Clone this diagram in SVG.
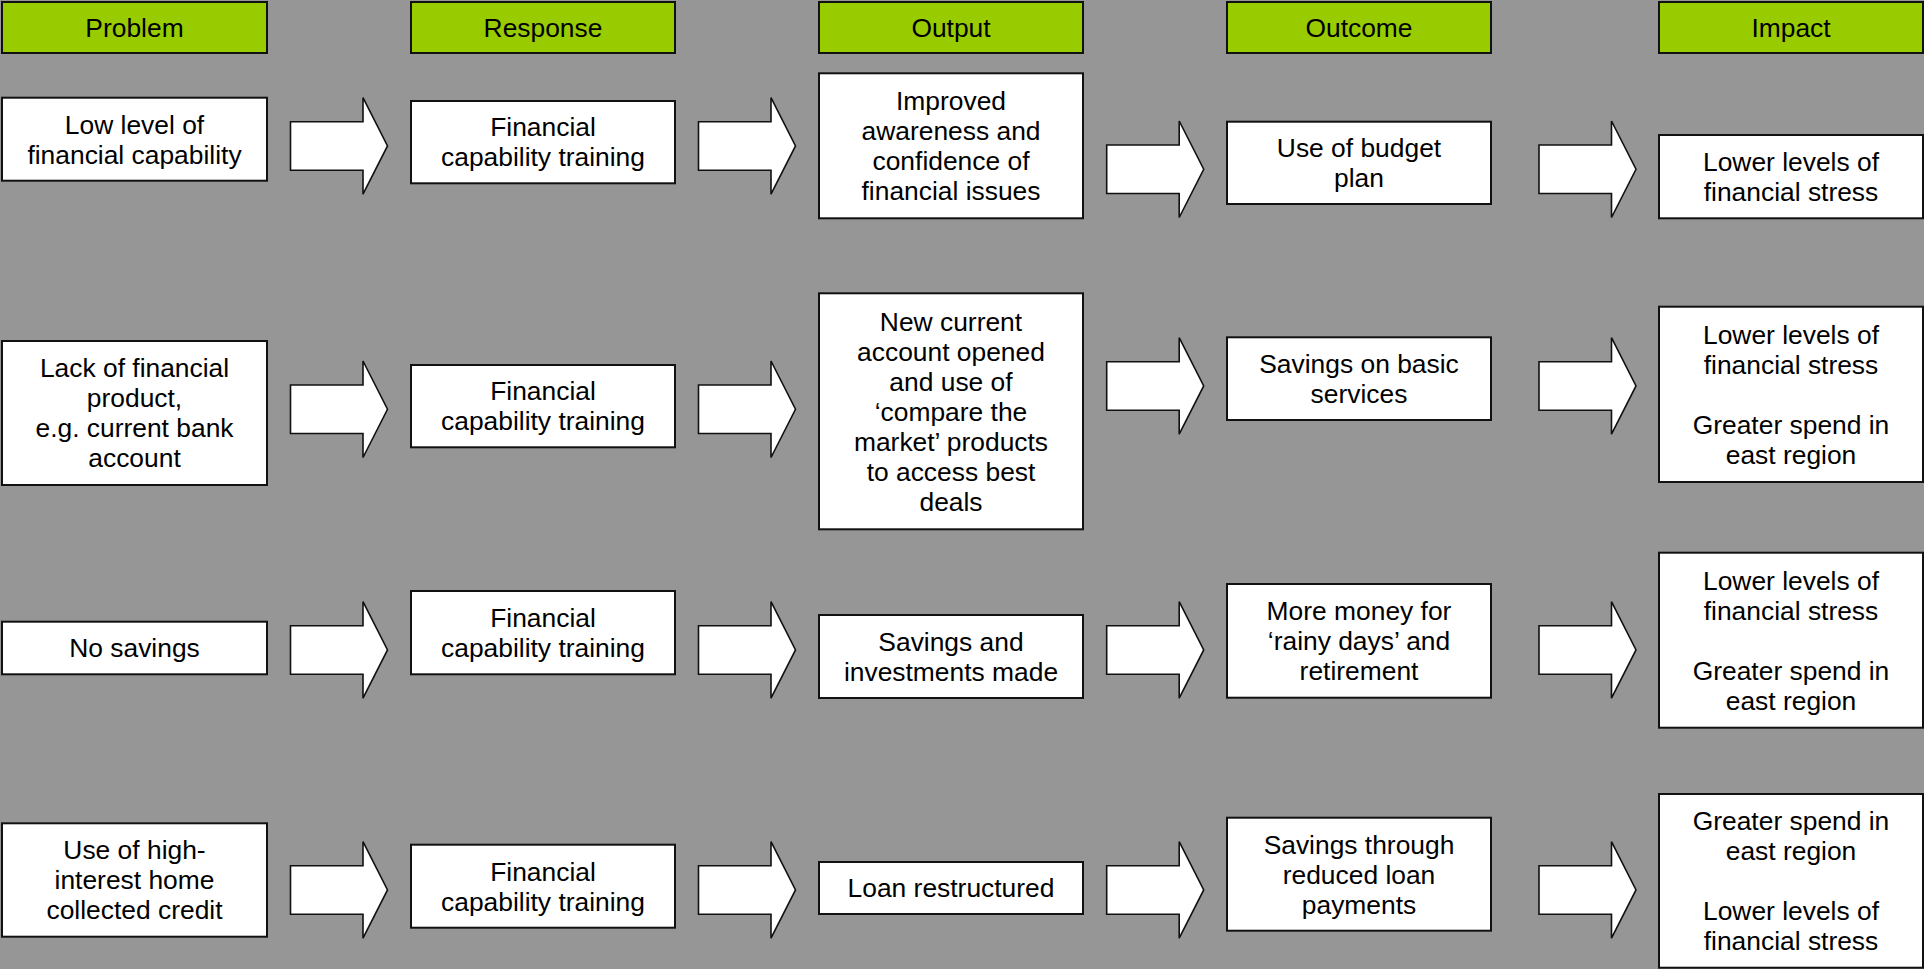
<svg xmlns="http://www.w3.org/2000/svg" xmlns:xlink="http://www.w3.org/1999/xlink" width="1924" height="969" viewBox="0 0 1924 969">
<style>
.hd{fill:#99CC00;stroke:#111;stroke-width:2}
.bx{fill:#fff;stroke:#111;stroke-width:2}
.ar{fill:#fff;stroke:#111;stroke-width:1.6;stroke-linejoin:miter}
text{font-family:"Liberation Sans",Arial,sans-serif;font-size:26.4px;fill:#000;text-anchor:middle}
</style>
<defs>
<path id="arrow" class="ar" d="M0,24 H72.5 V0 L97,48.25 L72.5,96.5 V72.5 H0 Z"/>
</defs>
<rect width="1924" height="969" fill="#969696"/>

<g id="headers">
<g id="h-problem"><rect class="hd" x="2" y="2" width="265" height="51"/><text x="134.5" y="36.8">Problem</text></g>
<g id="h-response"><rect class="hd" x="411" y="2" width="264" height="51"/><text x="543" y="36.8">Response</text></g>
<g id="h-output"><rect class="hd" x="819" y="2" width="264" height="51"/><text x="951" y="36.8">Output</text></g>
<g id="h-outcome"><rect class="hd" x="1227" y="2" width="264" height="51"/><text x="1359" y="36.8">Outcome</text></g>
<g id="h-impact"><rect class="hd" x="1659" y="2" width="264" height="51"/><text x="1791" y="36.8">Impact</text></g>
</g>

<g id="connectors">
<use xlink:href="#arrow" transform="translate(290.5,97.7)"/>
<use xlink:href="#arrow" transform="translate(698.5,97.7)"/>
<use xlink:href="#arrow" transform="translate(1106.7,121)"/>
<use xlink:href="#arrow" transform="translate(1539,121)"/>
<use xlink:href="#arrow" transform="translate(290.5,361)"/>
<use xlink:href="#arrow" transform="translate(698.5,361)"/>
<use xlink:href="#arrow" transform="translate(1106.7,337.7)"/>
<use xlink:href="#arrow" transform="translate(1539,337.7)"/>
<use xlink:href="#arrow" transform="translate(290.5,601.7)"/>
<use xlink:href="#arrow" transform="translate(698.5,601.7)"/>
<use xlink:href="#arrow" transform="translate(1106.7,601.7)"/>
<use xlink:href="#arrow" transform="translate(1539,601.7)"/>
<use xlink:href="#arrow" transform="translate(290.5,841.7)"/>
<use xlink:href="#arrow" transform="translate(698.5,841.7)"/>
<use xlink:href="#arrow" transform="translate(1106.7,841.7)"/>
<use xlink:href="#arrow" transform="translate(1539,841.7)"/>
</g>

<!-- Row 1 -->
<g id="r1-problem"><rect class="bx" x="2" y="97.7" width="265" height="83"/>
<text x="134.5"><tspan x="134.5" y="133.5">Low level of</tspan><tspan x="134.5" y="163.5">financial capability</tspan></text></g>
<g id="r1-response"><rect class="bx" x="411" y="101" width="264" height="82.3"/>
<text><tspan x="543" y="136.4">Financial</tspan><tspan x="543" y="166.4">capability training</tspan></text></g>
<g id="r1-output"><rect class="bx" x="819" y="73.3" width="264" height="145"/>
<text><tspan x="951" y="110">Improved</tspan><tspan x="951" y="140">awareness and</tspan><tspan x="951" y="170">confidence of</tspan><tspan x="951" y="200">financial issues</tspan></text></g>
<g id="r1-outcome"><rect class="bx" x="1227" y="121.7" width="264" height="82.3"/>
<text><tspan x="1359" y="157.1">Use of budget</tspan><tspan x="1359" y="187.1">plan</tspan></text></g>
<g id="r1-impact"><rect class="bx" x="1659" y="135" width="264" height="83.3"/>
<text><tspan x="1791" y="170.9">Lower levels of</tspan><tspan x="1791" y="200.9">financial stress</tspan></text></g>

<!-- Row 2 -->
<g id="r2-problem"><rect class="bx" x="2" y="341" width="265" height="144"/>
<text><tspan x="134.5" y="377.3">Lack of financial</tspan><tspan x="134.5" y="407.3">product,</tspan><tspan x="134.5" y="437.3">e.g. current bank</tspan><tspan x="134.5" y="467.3">account</tspan></text></g>
<g id="r2-response"><rect class="bx" x="411" y="365" width="264" height="82.3"/>
<text><tspan x="543" y="400.4">Financial</tspan><tspan x="543" y="430.4">capability training</tspan></text></g>
<g id="r2-output"><rect class="bx" x="819" y="293.3" width="264" height="236"/>
<text><tspan x="951" y="330.6">New current</tspan><tspan x="951" y="360.6">account opened</tspan><tspan x="951" y="390.6">and use of</tspan><tspan x="951" y="420.6">‘compare the</tspan><tspan x="951" y="450.6">market’ products</tspan><tspan x="951" y="480.6">to access best</tspan><tspan x="951" y="510.6">deals</tspan></text></g>
<g id="r2-outcome"><rect class="bx" x="1227" y="337.3" width="264" height="82.7"/>
<text><tspan x="1359" y="372.9">Savings on basic</tspan><tspan x="1359" y="402.9">services</tspan></text></g>
<g id="r2-impact"><rect class="bx" x="1659" y="306.7" width="264" height="175.3"/>
<text><tspan x="1791" y="343.6">Lower levels of</tspan><tspan x="1791" y="373.6">financial stress</tspan><tspan x="1791" y="433.6">Greater spend in</tspan><tspan x="1791" y="463.6">east region</tspan></text></g>

<!-- Row 3 -->
<g id="r3-problem"><rect class="bx" x="2" y="621.7" width="265" height="52.6"/>
<text x="134.5" y="657.3">No savings</text></g>
<g id="r3-response"><rect class="bx" x="411" y="591" width="264" height="83.3"/>
<text><tspan x="543" y="626.9">Financial</tspan><tspan x="543" y="656.9">capability training</tspan></text></g>
<g id="r3-output"><rect class="bx" x="819" y="615" width="264" height="83"/>
<text><tspan x="951" y="650.8">Savings and</tspan><tspan x="951" y="680.8">investments made</tspan></text></g>
<g id="r3-outcome"><rect class="bx" x="1227" y="584" width="264" height="113.7"/>
<text><tspan x="1359" y="620.2">More money for</tspan><tspan x="1359" y="650.2">‘rainy days’ and</tspan><tspan x="1359" y="680.2">retirement</tspan></text></g>
<g id="r3-impact"><rect class="bx" x="1659" y="552.7" width="264" height="175"/>
<text><tspan x="1791" y="589.5">Lower levels of</tspan><tspan x="1791" y="619.5">financial stress</tspan><tspan x="1791" y="679.5">Greater spend in</tspan><tspan x="1791" y="709.5">east region</tspan></text></g>

<!-- Row 4 -->
<g id="r4-problem"><rect class="bx" x="2" y="823.3" width="265" height="113.4"/>
<text><tspan x="134.5" y="859.3">Use of high-</tspan><tspan x="134.5" y="889.3">interest home</tspan><tspan x="134.5" y="919.3">collected credit</tspan></text></g>
<g id="r4-response"><rect class="bx" x="411" y="844.7" width="264" height="83"/>
<text><tspan x="543" y="880.5">Financial</tspan><tspan x="543" y="910.5">capability training</tspan></text></g>
<g id="r4-output"><rect class="bx" x="819" y="862" width="264" height="52"/>
<text x="951" y="897.3">Loan restructured</text></g>
<g id="r4-outcome"><rect class="bx" x="1227" y="817.7" width="264" height="113"/>
<text><tspan x="1359" y="853.5">Savings through</tspan><tspan x="1359" y="883.5">reduced loan</tspan><tspan x="1359" y="913.5">payments</tspan></text></g>
<g id="r4-impact"><rect class="bx" x="1659" y="794" width="264" height="173.7"/>
<text><tspan x="1791" y="830.1">Greater spend in</tspan><tspan x="1791" y="860.1">east region</tspan><tspan x="1791" y="920.1">Lower levels of</tspan><tspan x="1791" y="950.1">financial stress</tspan></text></g>
</svg>
